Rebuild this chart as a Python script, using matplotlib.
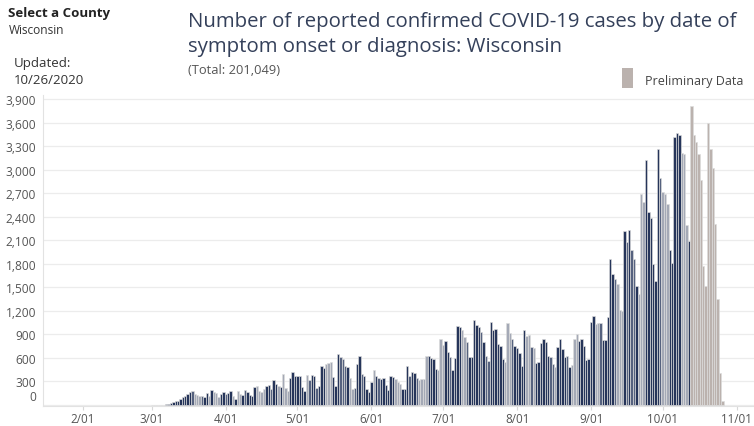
import datetime as dt
import matplotlib
matplotlib.use("Agg")
import matplotlib.pyplot as plt
import matplotlib.dates as mdates
from matplotlib.patches import Rectangle

plt.rcParams['font.family'] = ['Open Sans', 'DejaVu Sans']

# daily confirmed cases by symptom onset, 2020-03-01 .. 2020-10-26
cases_mar = [2, 1, 3, 2, 4, 6, 8, 12, 25, 35, 45, 55, 77, 98, 110, 140,
             170, 175, 140, 128, 120, 115, 98, 153, 118, 195, 160, 158, 98, 140, 170]
cases_apr = [140, 158, 183, 120, 77, 183, 140, 128, 195, 170, 128, 110, 225, 238, 183, 160,
             204, 246, 255, 204, 323, 268, 246, 225, 395, 212, 183, 340, 416, 365]
cases_may = [365, 365, 225, 183, 382, 323, 382, 365, 212, 246, 493, 467, 523, 540, 552, 353,
             238, 650, 608, 590, 493, 480, 340, 204, 212, 523, 620, 395, 365, 204, 161]
cases_jun = [297, 450, 365, 350, 330, 340, 255, 185, 375, 360, 330, 290, 270, 210, 205, 495,
             375, 415, 405, 350, 320, 330, 330, 620, 620, 595, 580, 460, 440, 835]
cases_jul = [765, 820, 670, 610, 440, 595, 1005, 990, 950, 865, 800, 615, 615, 1085, 1020, 990,
             925, 800, 630, 565, 1055, 950, 970, 780, 750, 585, 545, 1045, 920, 840, 750]
cases_aug = [720, 665, 500, 960, 875, 890, 735, 730, 530, 545, 790, 840, 805, 630, 610, 520,
             480, 745, 840, 715, 610, 630, 480, 510, 835, 905, 820, 840, 755, 575, 585]
cases_sep = [1060, 1140, 1035, 1045, 1040, 830, 830, 1125, 1857, 1670, 1605, 1540, 1210, 1195,
             2215, 2075, 2230, 1975, 1860, 1520, 1415, 2690, 2585, 3125, 2455, 2385, 1800, 1575,
             3265, 2895]
cases_oct = [2710, 2690, 2560, 1975, 1805, 3410, 3465, 3435, 3210, 3200, 2300, 2095, 3805,
             3445, 3350, 3200, 2870, 1775, 1520, 3590, 3265, 3020, 2310, 1350, 405, 47]

# bar shade per day: d = dark, m = mid, l = light, p = preliminary
shade_codes = ("llllldmd" "dddddddd" "dmlllmd" "dldllldd"
               "mddldlldmd" "dddlll" "lddmddldlllddd"
               "ddddlmddmdddllldddmmmdllmddmddd"
               "dl" "dmdddddd" "llldddmddm" "llll" "dddd" "ll"
               "lddmddddllmdddddmdmmd" "dddddlllmd"
               "ddddllmlddddddmmlddddmdlllddddd"
               "ddllmdddddmllldmdmmdlllddddddm"
               "llldddddllld" "pppppppppppppp")

y_ticks = list(range(0, 4000, 300))
x_tick_labels = ['2/01', '3/01', '4/01', '5/01', '6/01', '7/01', '8/01', '9/01', '10/01', '11/01']

cases = cases_mar + cases_apr + cases_may + cases_jun + cases_jul + cases_aug + cases_sep + cases_oct
start = dt.date(2020, 3, 1)
dates = [start + dt.timedelta(days=i) for i in range(len(cases))]
palette = {'d': '#26355a', 'm': '#56627f', 'l': '#a4a9b6', 'p': '#bbb2ae'}
colors = [palette[c] for c in shade_codes]

W, H = 754, 427
fig = plt.figure(figsize=(W / 100, H / 100), dpi=100)
ax = fig.add_axes([43 / W, (H - 407) / H, (W - 43) / W, (407 - 96) / H])

x = mdates.date2num(dates)
ax.bar(x, cases, width=1.0, color=colors, edgecolor='#dddddd', linewidth=0.45, zorder=3)

ax.set_xlim(mdates.date2num(dt.date(2020, 1, 15)) + 0.4, mdates.date2num(dt.date(2020, 11, 8)) + 0.25)
ax.set_ylim(-13, 3951)

ax.set_yticks(y_ticks)
ax.set_yticklabels([''] + [f'{v:,}' for v in y_ticks[1:]])
ax.annotate('0', xy=(0, 0), xycoords=('axes fraction', 'data'), xytext=(-7, 8),
            textcoords='offset pixels', ha='right', va='center', fontsize=8.6, color='#555555')
ax.tick_params(axis='y', length=0, pad=5, labelsize=8.6, labelcolor='#555555')
ax.grid(axis='y', color='#ececec', linewidth=0.9, zorder=0)

month_starts = [dt.date(2020, m, 1) for m in range(2, 12)]
ax.set_xticks(mdates.date2num(month_starts))
ax.set_xticklabels(x_tick_labels)
ax.tick_params(axis='x', length=3, width=0.8, color='#d8d8d8', pad=1,
               labelsize=8.4, labelcolor='#555555')

for side in ['top', 'right']:
    ax.spines[side].set_visible(False)
ax.spines['left'].set_color('#e2e2e2')
ax.spines['bottom'].set_color('#e2e2e2')


def px(xp, yp):
    return xp / W, 1 - yp / H


fig.text(*px(8, 14), 'Select a County', fontsize=9.5, fontweight='bold', color='#222222', va='center')
fig.text(*px(9, 30), 'Wisconsin', fontsize=8.6, color='#333333', va='center')
fig.text(*px(14, 64), 'Updated:', fontsize=9.5, color='#333333', va='center')
fig.text(*px(14, 80), '10/26/2020', fontsize=9.5, color='#333333', va='center')

title_color = '#34405a'
fig.text(*px(188, 22), 'Number of reported confirmed COVID-19 cases by date of',
         fontsize=14.7, color=title_color, va='center')
fig.text(*px(188, 47), 'symptom onset or diagnosis: Wisconsin',
         fontsize=14.7, color=title_color, va='center')
fig.text(*px(188, 70), '(Total: 201,049)', fontsize=9.3, color='#555555', va='center')

fig.patches.append(Rectangle(px(622, 89), 11 / W, 20 / H, transform=fig.transFigure,
                             facecolor='#bbb2ae', edgecolor='none'))
fig.text(*px(645, 82), 'Preliminary Data', fontsize=9, color='#444444', va='center')

fig.savefig('out.png', dpi=100)
